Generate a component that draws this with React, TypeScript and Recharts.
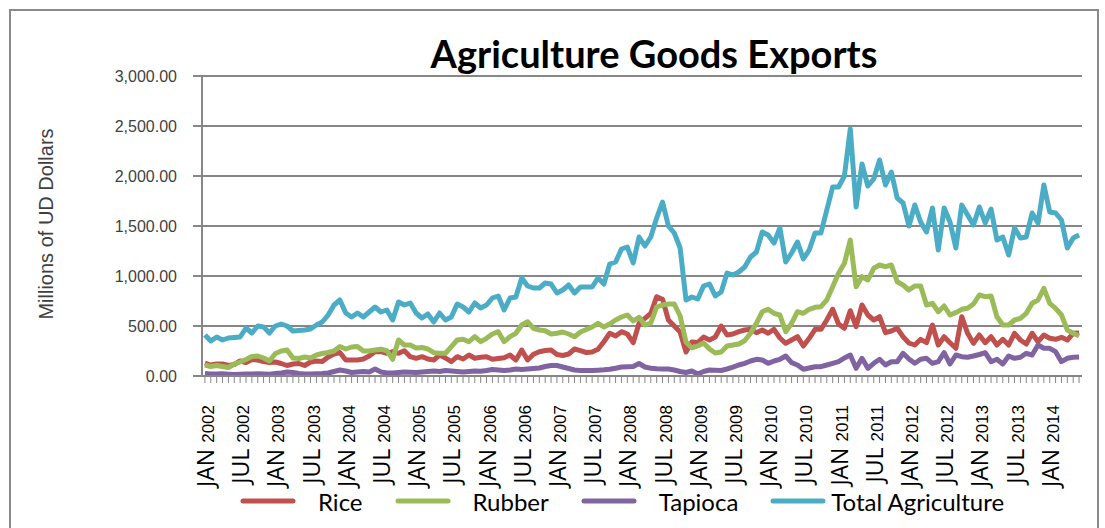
import React from "react";
import { LineChart, Line, XAxis, YAxis, CartesianGrid, Legend, Label } from "recharts";

// monthly exports, Jan 2002 - Jun 2014 (millions of US dollars)
const months = ["JAN", "FEB", "MAR", "APR", "MAY", "JUN", "JUL", "AUG", "SEP", "OCT", "NOV", "DEC"];
const years = [2002, 2003, 2004, 2005, 2006, 2007, 2008, 2009, 2010, 2011, 2012, 2013, 2014];

const rice = [
	130, 110, 120, 120, 105, 115, 150, 135, 165, 160, 145, 135,
	140, 125, 105, 120, 125, 105, 140, 150, 145, 190, 220, 235,
	160, 160, 160, 170, 200, 245, 243, 227, 243, 227, 253, 193,
	177, 193, 170, 160, 210, 180, 143, 193, 170, 210, 177, 187,
	193, 167, 175, 183, 210, 160, 260, 160, 217, 243, 255, 260,
	215, 205, 220, 270, 253, 235, 240, 267, 343, 427, 400, 443,
	420, 333, 527, 577, 627, 793, 767, 560, 500, 440, 240, 340,
	335, 390, 360, 390, 500, 410, 420, 443, 460, 467, 433, 460,
	427, 467, 380, 327, 360, 393, 300, 377, 467, 467, 560, 667,
	520, 477, 653, 493, 710, 610, 560, 593, 433, 450, 477, 393,
	330, 310, 367, 333, 510, 310, 393, 333, 277, 593, 427, 327,
	410, 333, 393, 310, 367, 310, 427, 360, 320, 427, 343, 410,
	377, 367, 387, 360, 427, 430,
];

const rubber = [
	110, 95, 105, 95, 85, 120, 140, 165, 195, 200, 180, 150,
	225, 250, 260, 180, 175, 190, 180, 210, 225, 235, 250, 295,
	270, 290, 295, 250, 250, 260, 267, 253, 167, 360, 310, 310,
	280, 285, 270, 233, 227, 227, 293, 360, 367, 343, 393, 343,
	377, 420, 443, 343, 393, 427, 510, 543, 477, 460, 453, 420,
	427, 440, 420, 393, 440, 465, 490, 527, 490, 520, 560, 590,
	610, 550, 587, 510, 530, 690, 710, 720, 720, 600, 340, 280,
	300, 330, 270, 230, 240, 300, 310, 320, 353, 427, 527, 643,
	667, 627, 610, 443, 527, 643, 627, 667, 687, 693, 760, 893,
	1027, 1127, 1360, 893, 993, 960, 1077, 1110, 1093, 1110, 943, 910,
	860, 900, 900, 710, 727, 643, 700, 610, 633, 667, 677, 720,
	810, 793, 800, 593, 510, 510, 560, 577, 627, 727, 760, 877,
	727, 677, 610, 460, 427, 400,
];

const tapioca = [
	25, 20, 20, 22, 18, 15, 18, 20, 20, 22, 20, 18,
	25, 30, 40, 35, 25, 20, 20, 22, 25, 30, 45, 60,
	50, 35, 40, 45, 40, 70, 40, 30, 30, 35, 40, 38,
	35, 40, 45, 50, 45, 55, 50, 45, 40, 45, 50, 48,
	55, 65, 60, 55, 60, 70, 65, 70, 75, 80, 95, 105,
	105, 90, 75, 60, 55, 55, 55, 58, 62, 68, 78, 90,
	92, 95, 125, 90, 78, 72, 70, 70, 60, 45, 35, 50,
	20, 45, 60, 58, 55, 70, 88, 110, 127, 150, 167, 160,
	127, 150, 167, 200, 133, 110, 67, 80, 93, 93, 110, 127,
	143, 180, 210, 77, 177, 77, 127, 167, 110, 143, 143, 227,
	170, 127, 167, 177, 127, 143, 233, 120, 210, 193, 187, 200,
	215, 233, 143, 167, 120, 200, 177, 187, 227, 210, 310, 277,
	277, 243, 143, 177, 187, 190,
];

const totalAgriculture = [
	410, 350, 390, 360, 380, 385, 390, 480, 430, 500, 490, 430,
	500, 520, 500, 450, 455, 460, 470, 510, 540, 610, 710, 760,
	630, 590, 630, 590, 640, 690, 640, 660, 560, 740, 710, 730,
	630, 580, 620, 540, 630, 560, 590, 720, 690, 640, 730, 680,
	710, 780, 800, 660, 780, 790, 980, 900, 880, 880, 930, 920,
	830, 860, 910, 830, 890, 890, 890, 980, 920, 1120, 1140, 1270,
	1290, 1130, 1390, 1300, 1390, 1580, 1740, 1500, 1430, 1280, 760, 790,
	770, 900, 920, 800, 840, 1030, 1010, 1040, 1090, 1190, 1240, 1440,
	1410, 1330, 1480, 1140, 1230, 1340, 1170, 1260, 1430, 1430, 1660, 1890,
	1890, 2000, 2470, 1690, 2120, 1900, 1970, 2160, 1910, 2040, 1780, 1730,
	1500, 1710, 1540, 1440, 1680, 1260, 1680, 1540, 1280, 1710, 1610, 1510,
	1690, 1530, 1670, 1360, 1390, 1210, 1480, 1380, 1390, 1630, 1530, 1910,
	1640, 1630, 1560, 1280, 1380, 1410,
];

const yTicks = [0, 500, 1000, 1500, 2000, 2500, 3000];

const categories = years.flatMap((y) => months.map((m) => `${m} ${y}`)).slice(0, rice.length);

const data = categories.map((name, i) => ({
	name,
	rice: rice[i],
	rubber: rubber[i],
	tapioca: tapioca[i],
	total: totalAgriculture[i],
}));

const GRID = "#868686";

function MonthTick(props: any) {
	const { x, y, payload } = props;
	const idx = payload.index ?? props.index;
	const [mon, yr] = String(payload.value).split(" ");
	return (
		<g>
			<line x1={x} y1={y} x2={x} y2={y + 7} stroke={GRID} strokeWidth={1} />
			{idx % 6 === 0 && (
				<text transform={`translate(${x + 9},${y + 29}) rotate(-90)`} textAnchor="end" fill="#000">
					<tspan fontFamily="'Open Sans', sans-serif" fontSize={23}>{mon}</tspan>
					<tspan fontFamily="'Liberation Sans', Arial, sans-serif" fontSize={17} dx={6}>{yr}</tspan>
				</text>
			)}
		</g>
	);
}

function LegendContent(props: any) {
	const items = props.payload || [];
	return (
		<div style={{ display: "flex", alignItems: "center", height: 30, fontFamily: "Lato, sans-serif", fontSize: 24, color: "#000" }}>
			{items.map((it: any, i: number) => (
				<div key={it.value} style={{ display: "flex", alignItems: "center", marginRight: 32 }}>
					<svg width={56} height={8}>
						<line x1={3} y1={4} x2={53} y2={4} stroke={it.color} strokeWidth={5} strokeLinecap="round" />
					</svg>
					<span style={{ marginLeft: i === items.length - 1 ? 5 : 22 }}>{it.value}</span>
				</div>
			))}
		</div>
	);
}

const fmt = (v: number) => v.toLocaleString("en-US", { minimumFractionDigits: 2, maximumFractionDigits: 2 });

export default function App() {
	return (
		<div style={{ position: "absolute", left: 0, top: 0, width: 1105, height: 528, background: "#fff", overflow: "hidden" }}>
			<div style={{ position: "absolute", left: 9, top: 9, width: 1090, height: 560, border: "2px solid #8a8a8a", boxSizing: "border-box" }} />
			<div
				style={{
					position: "absolute",
					left: 354,
					width: 600,
					top: 34,
					textAlign: "center",
					fontFamily: "Lato, sans-serif",
					fontWeight: 700,
					fontSize: 38,
					lineHeight: 1,
					color: "#000",
				}}
			>
				Agriculture Goods Exports
			</div>
			<div style={{ position: "absolute", left: 0, top: 0 }}>
				<LineChart width={1105} height={528} data={data} margin={{ top: 76, right: 23, bottom: 0, left: 102 }}>
					<CartesianGrid vertical={false} stroke={GRID} strokeWidth={2} />
					<XAxis
						dataKey="name"
						scale="band"
						interval={0}
						tickSize={0}
						tickMargin={0}
						tickLine={false}
						axisLine={{ stroke: GRID, strokeWidth: 2 }}
						height={122}
						tick={<MonthTick />}
					/>
					<YAxis
						domain={[0, 3000]}
						ticks={yTicks}
						width={100}
						tickSize={9}
						tickMargin={16}
						tickFormatter={fmt}
						axisLine={{ stroke: GRID, strokeWidth: 2 }}
						tickLine={{ stroke: GRID, strokeWidth: 2 }}
						tick={{ fill: "#3f3f3f", fontSize: 16, fontFamily: "'Liberation Sans', Arial, sans-serif" }}
					>
						<Label
							content={() => (
								<text
									transform="translate(53,224) rotate(-90)"
									textAnchor="middle"
									fontFamily="'Liberation Sans Narrow', 'Arial Narrow', sans-serif"
									fontSize={20}
									fill="#3f3f3f"
								>
									Millions of UD Dollars
								</text>
							)}
						/>
					</YAxis>
					<Legend
						verticalAlign="bottom"
						content={<LegendContent />}
						wrapperStyle={{ left: 240, top: 486, width: 860 }}
					/>
					<Line type="linear" dataKey="rice" name="Rice" stroke="#C0504D" strokeWidth={5} dot={false} strokeLinejoin="round" isAnimationActive={false} />
					<Line type="linear" dataKey="rubber" name="Rubber" stroke="#9BBB59" strokeWidth={5} dot={false} strokeLinejoin="round" isAnimationActive={false} />
					<Line type="linear" dataKey="tapioca" name="Tapioca" stroke="#8064A2" strokeWidth={5} dot={false} strokeLinejoin="round" isAnimationActive={false} />
					<Line type="linear" dataKey="total" name="Total Agriculture" stroke="#4BACC6" strokeWidth={5} dot={false} strokeLinejoin="round" isAnimationActive={false} />
				</LineChart>
			</div>
		</div>
	);
}
